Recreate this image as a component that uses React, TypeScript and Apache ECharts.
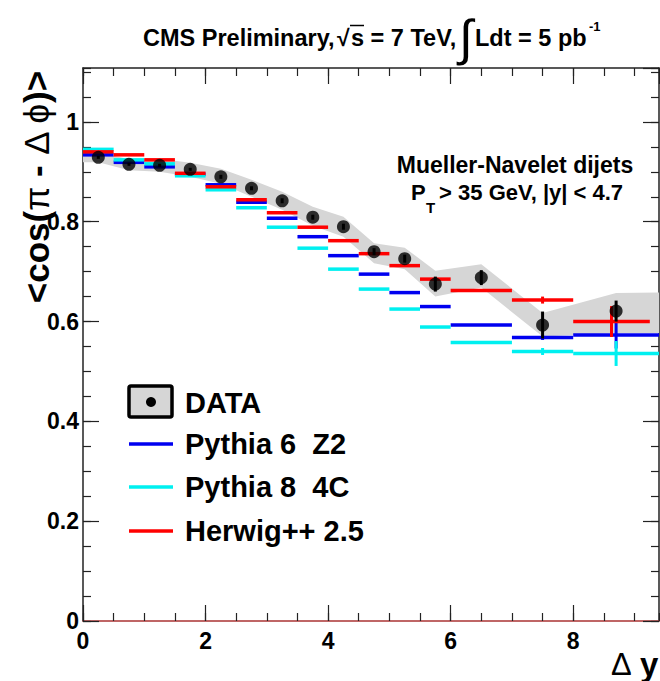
import React, { useEffect, useRef } from "react";
import * as echarts from "echarts";

const binLo = [0, 0.5, 1, 1.5, 2, 2.5, 3, 3.5, 4, 4.5, 5, 5.5, 6, 7, 8];
const binHi = [0.5, 1, 1.5, 2, 2.5, 3, 3.5, 4, 4.5, 5, 5.5, 6, 7, 8, 9.4];
const herwigBinHi = [0.5, 1, 1.5, 2, 2.5, 3, 3.5, 4, 4.5, 5, 5.5, 6, 7, 8, 9.25];

const dataX = [0.25, 0.75, 1.25, 1.75, 2.25, 2.75, 3.25, 3.75, 4.25, 4.75, 5.25, 5.75, 6.5, 7.5, 8.7];
const dataY = [0.929, 0.915, 0.913, 0.905, 0.89, 0.867, 0.842, 0.809, 0.79, 0.74, 0.726, 0.675, 0.688, 0.593, 0.621];
const dataErr = [0.003, 0.003, 0.003, 0.003, 0.004, 0.004, 0.005, 0.005, 0.006, 0.007, 0.008, 0.015, 0.015, 0.027, 0.021];

const bandX = [0, 0.25, 0.75, 1.25, 1.75, 2.25, 2.75, 3.25, 3.75, 4.25, 4.75, 5.25, 5.75, 6.5, 7.5, 8.7, 9.4];
const bandLo = [0.919, 0.919, 0.903, 0.9, 0.89, 0.876, 0.85, 0.824, 0.792, 0.77, 0.717, 0.705, 0.65, 0.668, 0.57, 0.577, 0.577];
const bandHi = [0.939, 0.939, 0.925, 0.926, 0.918, 0.906, 0.884, 0.86, 0.83, 0.81, 0.757, 0.748, 0.702, 0.715, 0.617, 0.657, 0.658];

const pythia6 = [0.934, 0.919, 0.91, 0.895, 0.874, 0.839, 0.807, 0.77, 0.732, 0.695, 0.658, 0.63, 0.593, 0.568, 0.573];
const pythia6Err = [0, 0, 0, 0, 0, 0, 0, 0, 0, 0, 0, 0, 0, 0.005, 0.027];
const pythia8 = [0.945, 0.924, 0.916, 0.892, 0.864, 0.828, 0.789, 0.747, 0.705, 0.665, 0.625, 0.589, 0.558, 0.54, 0.536];
const pythia8Err = [0, 0, 0, 0, 0, 0, 0, 0, 0, 0, 0, 0, 0, 0.007, 0.025];
const herwig = [0.94, 0.934, 0.924, 0.897, 0.87, 0.844, 0.818, 0.789, 0.762, 0.736, 0.712, 0.685, 0.662, 0.643, 0.6];
const herwigErr = [0, 0, 0, 0, 0, 0, 0, 0, 0, 0, 0, 0, 0, 0.007, 0.031];

const X_MAX = 9.4;
const Y_MAX = 1.108;

const FONT = "'Liberation Sans', Arial, Helvetica, sans-serif";

function modelSeries(name: string, vals: number[], errs: number[], his: number[], color: string) {
  return {
    type: "custom",
    name,
    xAxisIndex: 0,
    yAxisIndex: 0,
    clip: false,
    data: vals.map((v, i) => [binLo[i], his[i], v, errs[i]]),
    encode: { x: [0, 1], y: 2 },
    renderItem: (params: any, api: any) => {
      const x0 = api.value(0);
      const x1 = api.value(1);
      const y = api.value(2);
      const e = api.value(3);
      const p0 = api.coord([x0, y]);
      const p1 = api.coord([x1, y]);
      const children: any[] = [
        { type: "line", shape: { x1: p0[0], y1: p0[1], x2: p1[0], y2: p1[1] }, style: { stroke: color, lineWidth: 3.5 } },
      ];
      if (e > 0) {
        const xc = (x0 + x1) / 2;
        const a = api.coord([xc, y - e]);
        const b = api.coord([xc, y + e]);
        children.push({ type: "line", shape: { x1: a[0], y1: a[1], x2: b[0], y2: b[1] }, style: { stroke: color, lineWidth: 3 } });
      }
      return { type: "group", children };
    },
  };
}

function axisCommon(pos: string, interval: number, len: number, max: number, labels: boolean, line: boolean, lineColor = "#222") {
  return {
    type: "value",
    position: pos,
    min: 0,
    max,
    interval,
    axisLine: { show: line, onZero: false, lineStyle: { color: lineColor, width: 1.5 } },
    axisTick: { show: true, inside: true, length: len, lineStyle: { color: "#222", width: 1.2 } },
    axisLabel: {
      show: labels,
      showMaxLabel: false,
      color: "#000",
      fontFamily: FONT,
      fontWeight: "bold",
      fontSize: 23,
      margin: pos === "bottom" ? 8 : 4,
    },
    splitLine: { show: false },
  };
}

export default function App() {
  const ref = useRef<HTMLDivElement>(null);
  useEffect(() => {
    if (!ref.current) return;
    const chart = echarts.init(ref.current, null, { renderer: "svg" });
    const option: any = {
      animation: false,
      backgroundColor: "#fff",
      grid: { left: 83, top: 68, width: 576, height: 553 },
      xAxis: [
        axisCommon("bottom", 2, 16, X_MAX, true, true, "#aa3333"),
        axisCommon("bottom", 0.5, 8, X_MAX, false, false),
        axisCommon("top", 2, 16, X_MAX, false, true),
        axisCommon("top", 0.5, 8, X_MAX, false, false),
      ],
      yAxis: [
        axisCommon("left", 0.2, 16, Y_MAX, true, true),
        axisCommon("left", 0.05, 8, Y_MAX, false, false),
        axisCommon("right", 0.2, 16, Y_MAX, false, true),
        axisCommon("right", 0.05, 8, Y_MAX, false, false),
      ],
      series: [
        {
          type: "custom",
          name: "band",
          xAxisIndex: 0,
          yAxisIndex: 0,
          data: bandX.map((x, i) => [x, bandLo[i], bandHi[i]]),
          encode: { x: 0, y: [1, 2] },
          renderItem: (params: any, api: any) => {
            if (params.dataIndex !== 0) return null;
            const up = bandX.map((x, i) => api.coord([x, bandHi[i]]));
            const lo = bandX.map((x, i) => api.coord([x, bandLo[i]])).reverse();
            return { type: "polygon", shape: { points: up.concat(lo) }, style: { fill: "#d6d6d6", stroke: "none" } };
          },
        },
        modelSeries("Pythia 6  Z2", pythia6, pythia6Err, binHi, "#0000f0"),
        modelSeries("Pythia 8  4C", pythia8, pythia8Err, binHi, "#00f0f0"),
        modelSeries("Herwig++ 2.5", herwig, herwigErr, herwigBinHi, "#ff0000"),
        {
          type: "custom",
          name: "DATA errors",
          xAxisIndex: 0,
          yAxisIndex: 0,
          data: dataX.map((x, i) => [x, dataY[i], dataErr[i]]),
          encode: { x: 0, y: 1 },
          renderItem: (params: any, api: any) => {
            const x = api.value(0);
            const y = api.value(1);
            const e = api.value(2);
            const a = api.coord([x, y - e]);
            const b = api.coord([x, y + e]);
            return { type: "line", shape: { x1: a[0], y1: a[1], x2: b[0], y2: b[1] }, style: { stroke: "#000", lineWidth: 3 } };
          },
        },
        {
          type: "scatter",
          name: "DATA",
          xAxisIndex: 0,
          yAxisIndex: 0,
          symbol: "circle",
          symbolSize: 13,
          itemStyle: { color: "#000" },
          data: dataX.map((x, i) => [x, dataY[i]]),
        },
      ],
      graphic: [
        // Title
        { type: "text", x: 143, y: 38, style: { text: "CMS Preliminary,", font: `bold 23.5px ${FONT}`, fill: "#000", verticalAlign: "middle" } },
        { type: "text", x: 337, y: 38, style: { text: "√", font: `bold 23px ${FONT}`, fill: "#000", verticalAlign: "middle" } },
        { type: "line", shape: { x1: 350, y1: 25.5, x2: 364, y2: 25.5 }, style: { stroke: "#000", lineWidth: 1.5 } },
        { type: "text", x: 351, y: 38, style: { text: "s = 7 TeV,", font: `bold 23.5px ${FONT}`, fill: "#000", verticalAlign: "middle" } },
        { type: "text", x: 459, y: 38, style: { text: "∫", font: `50px ${FONT}`, fill: "#000", verticalAlign: "middle" } },
        { type: "text", x: 475, y: 38, style: { text: "Ldt = 5 pb", font: `bold 23.5px ${FONT}`, fill: "#000", verticalAlign: "middle" } },
        { type: "text", x: 589, y: 26, style: { text: "-1", font: `bold 13px ${FONT}`, fill: "#000", verticalAlign: "middle" } },
        // Y axis title
        {
          type: "text",
          x: 36,
          y: 187,
          rotation: Math.PI / 2,
          style: {
            text: "{b|<cos(}{n|π}{b| - }{n|Δ ϕ}{b|)>}",
            align: "center",
            verticalAlign: "middle",
            rich: {
              b: { font: `bold 35px ${FONT}`, fill: "#000" },
              n: { font: `35px ${FONT}`, fill: "#000" },
            },
          },
        },
        // X axis title
        { type: "text", x: 611, y: 664, style: { text: "Δ", font: `31px ${FONT}`, fill: "#000", verticalAlign: "middle" } },
        { type: "text", x: 640, y: 664, style: { text: "y", font: `bold 33px ${FONT}`, fill: "#000", verticalAlign: "middle" } },
        // Annotation
        { type: "text", x: 515, y: 165, style: { text: "Mueller-Navelet dijets", font: `bold 23px ${FONT}`, fill: "#000", align: "center", verticalAlign: "middle" } },
        { type: "text", x: 411, y: 192, style: { text: "P", font: `bold 22px ${FONT}`, fill: "#000", verticalAlign: "middle" } },
        { type: "text", x: 426, y: 207, style: { text: "T", font: `bold 15px ${FONT}`, fill: "#000", verticalAlign: "middle" } },
        { type: "text", x: 433, y: 192, style: { text: " > 35 GeV, |y| < 4.7", font: `bold 22px ${FONT}`, fill: "#000", verticalAlign: "middle" } },
        // Legend
        { type: "rect", shape: { x: 129, y: 386, width: 43, height: 31, r: 2 }, style: { fill: "#d6d6d6", stroke: "#000", lineWidth: 3.5 } },
        { type: "circle", shape: { cx: 151, cy: 402, r: 5 }, style: { fill: "#000" } },
        { type: "text", x: 185, y: 403, style: { text: "DATA", font: `bold 29px ${FONT}`, fill: "#000", verticalAlign: "middle" } },
        { type: "line", shape: { x1: 129, y1: 444, x2: 173, y2: 444 }, style: { stroke: "#0000f0", lineWidth: 3.5 } },
        { type: "text", x: 185, y: 444, style: { text: "Pythia 6  Z2", font: `bold 29px ${FONT}`, fill: "#000", verticalAlign: "middle" } },
        { type: "line", shape: { x1: 129, y1: 487, x2: 173, y2: 487 }, style: { stroke: "#00f0f0", lineWidth: 3.5 } },
        { type: "text", x: 185, y: 487, style: { text: "Pythia 8  4C", font: `bold 29px ${FONT}`, fill: "#000", verticalAlign: "middle" } },
        { type: "line", shape: { x1: 129, y1: 531, x2: 173, y2: 531 }, style: { stroke: "#ff0000", lineWidth: 3.5 } },
        { type: "text", x: 185, y: 531, style: { text: "Herwig++ 2.5", font: `bold 29px ${FONT}`, fill: "#000", verticalAlign: "middle" } },
      ],
    };
    chart.setOption(option);
    return () => chart.dispose();
  }, []);
  return <div ref={ref} style={{ position: "absolute", left: 0, top: 0, width: 660, height: 681 }} />;
}
